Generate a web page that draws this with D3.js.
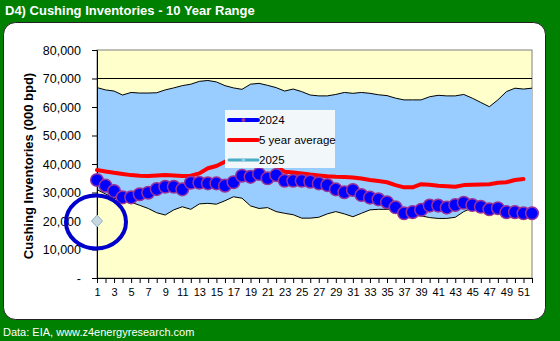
<!DOCTYPE html>
<html><head><meta charset="utf-8">
<script src="https://cdn.jsdelivr.net/npm/d3@7"></script>
<style>body{margin:0;background:#008000;} svg{display:block;}</style>
</head><body>
<svg id="c" width="560" height="341"></svg>
<script>
const weeks = d3.range(1, 53);
const rangeMax = [66800,66000,65600,64200,65100,64900,64900,65000,66000,66700,67500,68000,69000,69300,68800,67500,66700,66200,68000,68300,67600,66800,65600,66300,65400,64200,63900,63900,64400,65100,64800,65100,64800,64300,64000,63100,62500,62500,62500,63600,64100,63900,63900,64400,63100,61600,60100,62500,65400,66600,66300,66600];
const rangeMin = [31000,29500,28000,27000,26600,25500,24400,22900,22100,23900,25000,24100,26000,26200,25900,27100,28500,28000,25300,24400,24700,23300,22700,22200,21000,21000,21300,22500,23300,22500,21500,22700,23900,24100,24100,24300,22300,22000,21800,21200,20900,20900,21300,23300,24600,24400,23700,24000,22900,22900,22600,22600];
const y2024 = [34400,32400,30500,28300,28300,29400,29900,31200,32000,32000,31100,33400,33400,33200,33200,32400,33600,35900,35500,36500,35000,36100,34100,34100,34100,33800,33200,32600,31100,30100,30900,29100,28200,27600,26600,24800,22700,23100,23900,25400,25400,24700,25600,26400,25600,25000,24100,24500,23100,23100,22700,22700];
const avg5 = [37900,37400,36900,36500,36100,35900,35800,36000,36100,36000,35800,35900,36700,38500,39300,40800,41600,42000,42000,41500,40500,39000,37300,37000,36700,36300,36000,35700,35500,35400,35300,34900,34400,34000,33600,32600,31800,31800,32900,32700,32400,32200,32000,32600,32700,32800,32900,33400,33600,34400,34700,null];
const y2025 = [20000];
const yTicks = [0,10000,20000,30000,40000,50000,60000,70000,80000];
const xLabels = weeks.filter(w => w % 2 === 1);

const svg = d3.select("#c");
const font = "Liberation Sans, Arial, sans-serif";

// panel
svg.append("rect").attr("x",0).attr("y",0).attr("width",560).attr("height",341).attr("fill","#008000");
svg.append("rect").attr("x",3.5).attr("y",22.5).attr("width",542).attr("height",297).attr("rx",12)
  .attr("fill","#fff").attr("stroke","#202020").attr("stroke-width",1);
svg.append("text").attr("x",5).attr("y",15).attr("fill","#fff").attr("font-family",font)
  .attr("font-weight","bold").attr("font-size",13).text("D4) Cushing Inventories - 10 Year Range");
svg.append("text").attr("x",3).attr("y",336).attr("fill","#fff").attr("font-family",font)
  .attr("font-size",11).text("Data: EIA, www.z4energyresearch.com");

const L = 97, R = 532, T = 50, B = 278;
const x = d3.scaleLinear().domain([1,52]).range([L,R]);
const y = d3.scaleLinear().domain([0,80000]).range([B,T]);

svg.append("rect").attr("x",L).attr("y",T).attr("width",R-L).attr("height",B-T)
  .attr("fill","#FFFFCC").attr("stroke","#808080").attr("stroke-width",1);

const band = d3.area().x((d,i)=>x(weeks[i])).y0((d,i)=>y(rangeMin[i])).y1((d,i)=>y(rangeMax[i]));
svg.append("path").datum(rangeMax).attr("d",band).attr("fill","#99CCFF");
const ln = arr => d3.line().defined(d=>d!=null).x((d,i)=>x(weeks[i])).y(d=>y(d))(arr);
svg.append("path").attr("d",ln(rangeMax)).attr("fill","none").attr("stroke","#000").attr("stroke-width",1);
svg.append("path").attr("d",ln(rangeMin)).attr("fill","none").attr("stroke","#000").attr("stroke-width",1);
svg.append("line").attr("x1",L).attr("x2",R).attr("y1",y(70000)).attr("y2",y(70000)).attr("stroke","#000");

// axes
const ya = svg.append("g").attr("transform",`translate(${L},0)`)
  .call(d3.axisLeft(y).tickValues(yTicks).tickSize(5).tickFormat(d=>d===0?"-":d3.format(",")(d)));
ya.select(".domain").attr("stroke","#000");
ya.selectAll("text").attr("font-family",font).attr("font-size",12.5).attr("fill","#000").attr("dx",-8);
const xa = svg.append("g").attr("transform",`translate(0,${B})`)
  .call(d3.axisBottom(x).tickValues(weeks).tickSize(5).tickFormat(d=>xLabels.includes(d)?d:""));
xa.select(".domain").attr("stroke","#000");
xa.selectAll("text").attr("font-family",font).attr("font-size",11).attr("fill","#000").attr("dy","0.9em");

// 5-year avg
svg.append("path").attr("d",ln(avg5)).attr("fill","none").attr("stroke","#FF0000").attr("stroke-width",4)
  .attr("stroke-linejoin","round").attr("stroke-linecap","round");

// 2024
svg.append("path").attr("d",ln(y2024)).attr("fill","none").attr("stroke","#0000FF").attr("stroke-width",4);
svg.append("g").selectAll("circle").data(y2024).join("circle")
  .attr("cx",(d,i)=>x(weeks[i])).attr("cy",d=>y(d)).attr("r",6.3)
  .attr("fill","#0000FF").attr("stroke","#993399").attr("stroke-width",1.5);

// 2025
svg.append("g").selectAll("path").data(y2025).join("path")
  .attr("d","M0,-6L5.5,0L0,6L-5.5,0Z")
  .attr("transform",(d,i)=>`translate(${x(weeks[i])},${y(d)})`)
  .attr("fill","#C8D8E0").attr("stroke","#8FAFC0").attr("stroke-width",1);

svg.append("text").attr("transform",`translate(33,${(T+B)/2+2}) rotate(-90)`).attr("text-anchor","middle")
  .attr("font-family",font).attr("font-weight","bold").attr("font-size",13).text("Cushing Inventories (000 bpd)");

// annotation ellipse
svg.append("ellipse").attr("cx",x(1)-1).attr("cy",y(y2025[0])+1).attr("rx",30).attr("ry",26.5)
  .attr("fill","none").attr("stroke","#0000CC").attr("stroke-width",4);

// legend
const lg = svg.append("g").attr("transform","translate(225,110)");
lg.append("rect").attr("width",110).attr("height",58).attr("fill","#F2F7FA");
const items = [{n:"2024",c:"#0000FF",w:4,m:"dot"},{n:"5 year average",c:"#FF0000",w:4},{n:"2025",c:"#4BACC6",w:3,m:"plus"}];
items.forEach((it,i)=>{
  const yy = 10 + i*20;
  lg.append("line").attr("x1",4).attr("x2",33).attr("y1",yy).attr("y2",yy).attr("stroke",it.c).attr("stroke-width",it.w).attr("stroke-linecap","round");
  if(it.m==="dot") lg.append("circle").attr("cx",18.5).attr("cy",yy).attr("r",2).attr("fill","#993399");
  if(it.m==="plus") lg.append("path").attr("d",`M16.5,${yy}h4M18.5,${yy-2}v4`).attr("stroke","#B0D8E8").attr("stroke-width",1);
  lg.append("text").attr("x",34).attr("y",yy+4).attr("font-family",font).attr("font-size",11.5).text(it.n);
});
</script>
</body></html>
